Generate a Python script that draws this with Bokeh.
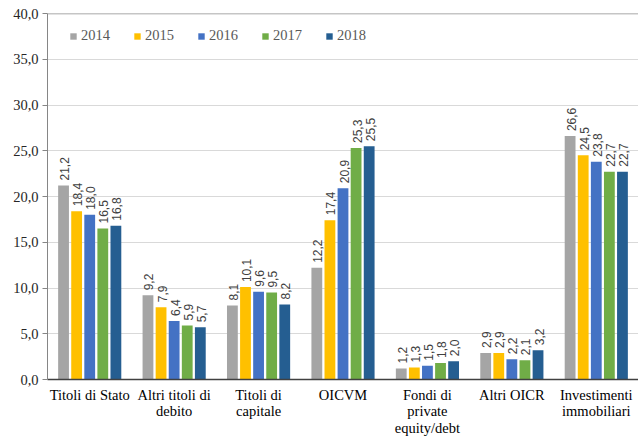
import math
from bokeh.plotting import figure
from bokeh.models import ColumnDataSource, FactorRange, FixedTicker, Span, Legend, LegendItem
from bokeh.transform import dodge
from bokeh.core.properties import value
from bokeh.embed import file_html
from bokeh.resources import INLINE

categories = ["Titoli di Stato", "Altri titoli di\ndebito", "Titoli di\ncapitale", "OICVM",
              "Fondi di\nprivate\nequity/debt", "Altri OICR", "Investimenti\nimmobiliari"]
years = ["2014", "2015", "2016", "2017", "2018"]
v2014 = [21.2, 9.2, 8.1, 12.2, 1.2, 2.9, 26.6]
v2015 = [18.4, 7.9, 10.1, 17.4, 1.3, 2.9, 24.5]
v2016 = [18.0, 6.4, 9.6, 20.9, 1.5, 2.2, 23.8]
v2017 = [16.5, 5.9, 9.5, 25.3, 1.8, 2.1, 22.7]
v2018 = [16.8, 5.7, 8.2, 25.5, 2.0, 3.2, 22.7]
y_ticks = [0, 5, 10, 15, 20, 25, 30, 35, 40]

series = [v2014, v2015, v2016, v2017, v2018]
colors = ["#A5A5A5", "#FFC000", "#4472C4", "#70AD47", "#255E91"]
offsets = [-0.31, -0.155, 0.0, 0.155, 0.31]
bar_w = 0.128

def fmt(v):
    return f"{v:.1f}".replace(".", ",")

data = {"cat": categories}
for y, s in zip(years, series):
    data[y] = s
    data["lbl" + y] = [fmt(v) for v in s]
source = ColumnDataSource(data)

p = figure(x_range=FactorRange(*categories), y_range=(0, 40),
           width=638, height=439, output_backend="svg", toolbar_location=None,
           min_border_left=47, min_border_top=13, min_border_bottom=59, min_border_right=0)
p.outline_line_color = None
p.background_fill_color = "white"

items = []
for y, c, off in zip(years, colors, offsets):
    r = p.vbar(x=dodge("cat", off, range=p.x_range), top=y, width=bar_w, source=source,
               fill_color=c, line_color=None)
    items.append(LegendItem(label=y, renderers=[r]))
    p.text(x=dodge("cat", off, range=p.x_range), y=y, text="lbl" + y, source=source,
           angle=math.pi / 2, text_align="left", text_baseline="middle",
           y_offset=-5, x_offset=1,
           text_font=value("Liberation Sans"), text_font_size="12px", text_color="#404040")

legend = Legend(items=items, orientation="horizontal", location=(22, 335),
                padding=0, margin=0, spacing=23, glyph_width=8, glyph_height=8,
                label_standoff=4, label_height=16,
                label_text_font="Liberation Serif", label_text_font_size="14.5px",
                label_text_color="#595959",
                border_line_color=None, background_fill_alpha=0)
p.add_layout(legend)

p.add_layout(Span(location=40, dimension="width", line_color="#8C8C8C", line_width=1.5))

p.yaxis.ticker = FixedTicker(ticks=y_ticks)
p.yaxis.major_label_overrides = {t: fmt(t) for t in y_ticks}
p.yaxis.major_label_text_font = "Liberation Serif"
p.yaxis.major_label_text_font_size = "14.5px"
p.yaxis.major_label_text_color = "#262626"
p.yaxis.axis_line_color = "#868686"
p.yaxis.major_tick_line_color = "#868686"
p.yaxis.major_tick_out = 5
p.yaxis.major_tick_in = 0
p.yaxis.minor_tick_line_color = None
p.yaxis.major_label_standoff = 4

p.xaxis.major_label_text_font = "Liberation Serif"
p.xaxis.major_label_text_font_size = "14.5px"
p.xaxis.major_label_text_color = "#000000"
p.xaxis.major_label_text_line_height = 1.05
p.xaxis.axis_line_color = "#404040"
p.xaxis.axis_line_width = 1.5
p.xaxis.major_tick_line_color = None
p.xaxis.major_label_standoff = 1

p.xgrid.grid_line_color = None
p.ygrid.grid_line_color = "#D9D9D9"
p.ygrid.grid_line_width = 1

open("out.html", "w").write(file_html(p, INLINE))
